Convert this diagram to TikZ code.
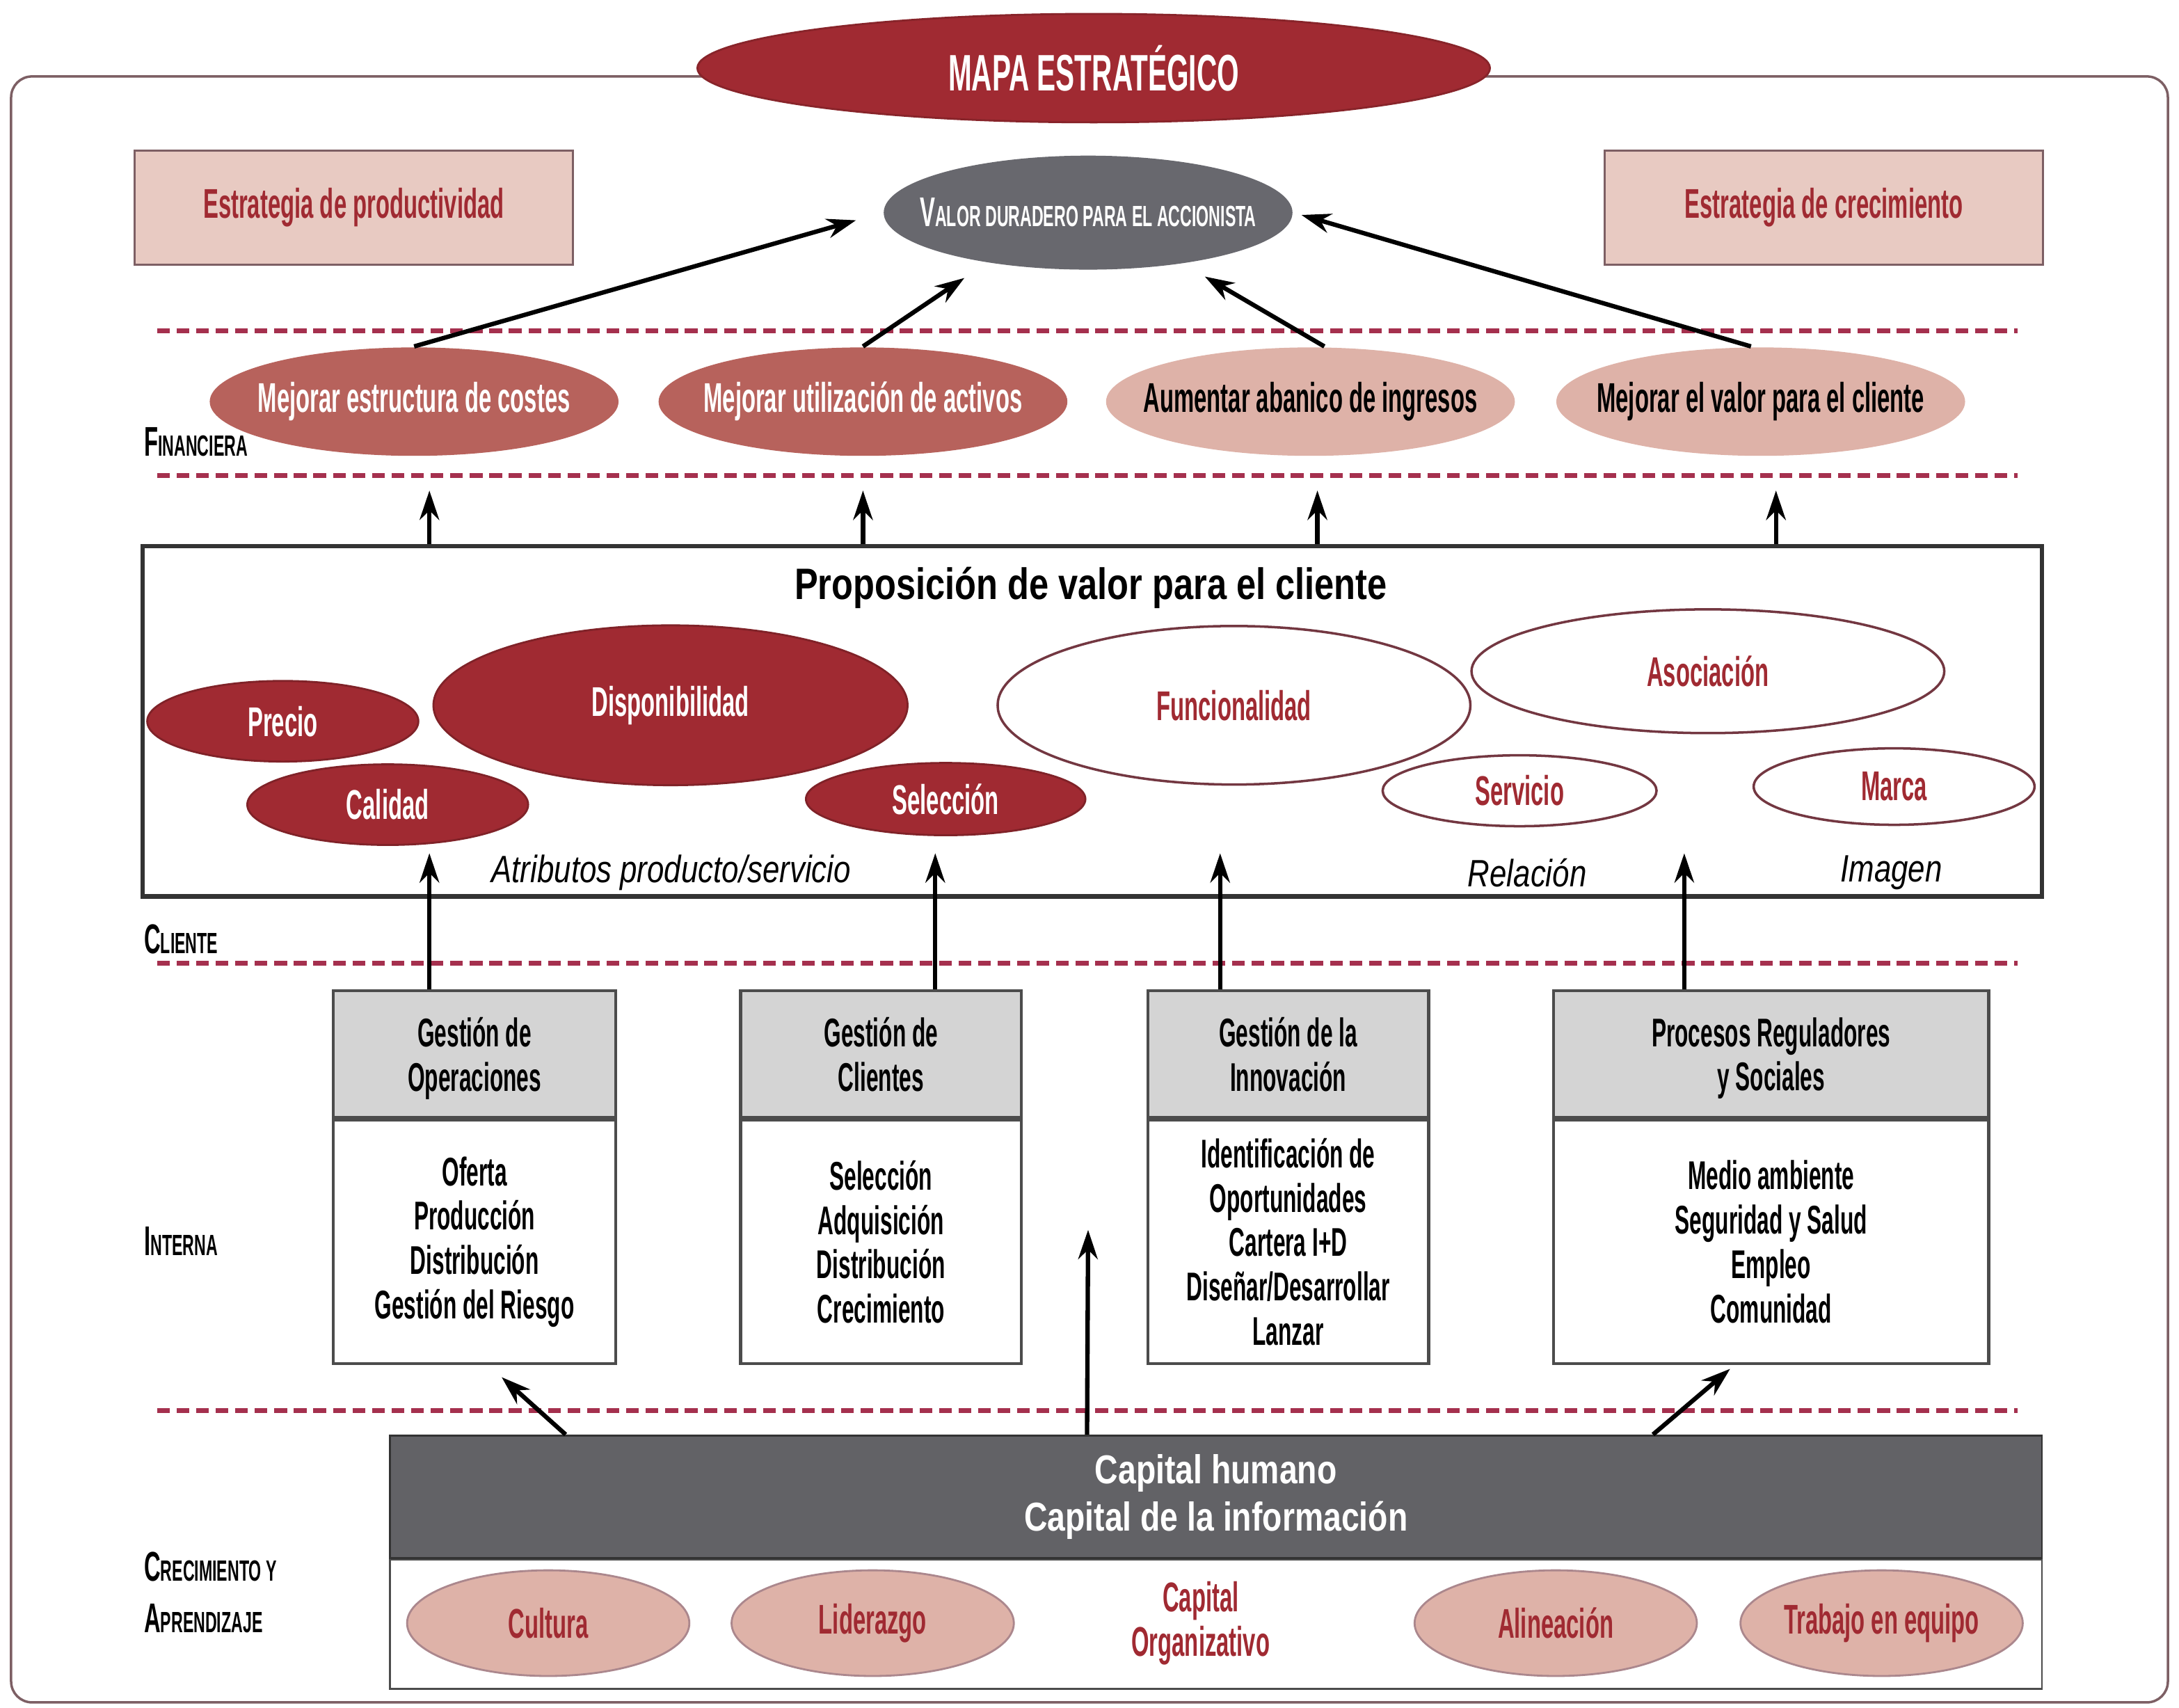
\documentclass[tikz,border=0pt]{standalone}
\usepackage{fontspec}
\setmainfont{Liberation Sans}[FakeStretch=0.55]
\newfontfamily\widefont{Liberation Sans}[FakeStretch=0.8]
\usepackage{tikz}
\usetikzlibrary{arrows.meta,positioning,shapes.geometric}

\definecolor{mapred}{RGB}{160,42,50}
\definecolor{midred}{RGB}{183,98,92}
\definecolor{pinkell}{RGB}{222,178,168}
\definecolor{pinkbox}{RGB}{232,202,194}
\definecolor{valgray}{RGB}{104,104,110}
\definecolor{capgray}{RGB}{98,98,102}
\definecolor{hdrgray}{RGB}{212,212,212}
\definecolor{sepred}{RGB}{165,48,78}
\definecolor{framecol}{RGB}{125,95,100}
\definecolor{ellline}{RGB}{115,55,65}

\newcommand{\fakesc}[2]{#1{\fontsize{6}{7}\selectfont #2}}
\newcommand{\elltxt}{\bfseries\fontsize{8.5}{9.2}\selectfont}
\newcommand{\proctxt}{\bfseries\fontsize{8.2}{9.1}\selectfont}

\begin{document}
\begin{tikzpicture}[
    x=0.01cm, y=-0.01cm,
    every node/.style={font=\elltxt, align=center, inner sep=0pt},
    titleell/.style={ellipse, fill=mapred, draw=mapred!85!black, text=white,
      minimum width=5.7cm, minimum height=0.78cm,
      font=\bfseries\fontsize{10.5}{12}\selectfont},
    stratbox/.style={rectangle, fill=pinkbox, draw=framecol, text=mapred,
      minimum width=3.15cm, minimum height=0.82cm},
    valell/.style={ellipse, inner xsep=-10pt, fill=valgray, text=white,
      minimum width=2.94cm, minimum height=0.82cm},
    finell/.style={ellipse, inner xsep=-6pt, minimum width=2.94cm, minimum height=0.78cm},
    darkfin/.style={finell, fill=midred, text=white},
    lightfin/.style={finell, fill=pinkell, text=black},
    solidell/.style={ellipse, inner xsep=-6pt, fill=mapred, draw=mapred!80!black, text=white},
    openell/.style={ellipse, inner xsep=-6pt, fill=white, draw=ellline, line width=0.5pt, text=mapred},
    orgell/.style={ellipse, inner xsep=-6pt, fill=pinkell, draw=ellline!60, text=mapred,
      minimum width=2.03cm, minimum height=0.76cm},
    layer/.style={anchor=west, align=left, font=\bfseries\fontsize{8.5}{10.5}\selectfont},
    attr/.style={font=\widefont\itshape\fontsize{7.8}{9}\selectfont},
    prochead/.style={rectangle, fill=hdrgray, draw=black!70, line width=0.6pt,
      minimum height=0.91cm, text depth=-2pt, font=\proctxt},
    procbody/.style={rectangle, fill=white, draw=black!70, line width=0.6pt,
      minimum height=1.75cm, font=\proctxt},
    arr/.style={-{Stealth[length=6pt,width=4pt]}, line width=0.9pt},
    sepline/.style={sepred, line width=1pt, dash pattern=on 2.6pt off 1.4pt}
  ]
  \useasboundingbox (0,0) rectangle (1568,1229);

  % Frame and title
  \draw[framecol, line width=0.5pt, rounded corners=0.15cm] (8,55) rectangle (1560,1225);
  \node[titleell] (title) at (787,49) {MAPA ESTRATÉGICO};

  % Strategies
  \node[stratbox] (prod) at (254.5,149.5) {Estrategia de productividad};
  \node[stratbox] (crec) at (1312.5,149.5) {Estrategia de crecimiento};
  \node[valell] (valor) at (783,153) {\fakesc{V}{ALOR DURADERO PARA EL ACCIONISTA}};

  % Layer separators
  \foreach \y in {238,342,693,1015}
    \draw[sepline] (113,\y) -- (1452,\y);

  % Financiera
  \node[darkfin] (costes) at (298,289) {Mejorar estructura de costes};
  \node[darkfin] (activos) at (621,289) {Mejorar utilización de activos};
  \node[lightfin] (ingresos) at (943,289) {Aumentar abanico de ingresos};
  \node[lightfin] (vcliente) at (1267,289) {Mejorar el valor para el cliente};
  \node[layer] (lfin) at (103,318) {\fakesc{F}{INANCIERA}};

  \coordinate (va2) at (694,200);
  \coordinate (va3) at (867,199);
  \draw[arr, shorten >=0.2cm] (costes.north) -- (valor.west);
  \draw[arr] (activos.north) -- (va2);
  \draw[arr] ([xshift=0.1cm]ingresos.north) -- (va3);
  \draw[arr, shorten >=0.06cm] ([xshift=-0.07cm]vcliente.north) -- (valor.east);

  % Cliente
  \node[draw=black!80, line width=0.9pt, fill=white, minimum width=13.66cm,
    minimum height=2.52cm] (prop) at (786,519) {};
  \node[font=\widefont\bfseries\fontsize{9}{11}\selectfont] (proptitle) at (785,423)
    {Proposición de valor para el cliente};
  \node[solidell, minimum width=1.95cm, minimum height=0.58cm] (precio) at (203.5,519) {Precio};
  \node[solidell, minimum width=3.41cm, minimum height=1.15cm] (dispo) at (482.5,507.5) {Disponibilidad};
  \node[solidell, minimum width=2.02cm, minimum height=0.58cm] (calidad) at (279,579) {Calidad};
  \node[solidell, minimum width=2.01cm, minimum height=0.52cm] (selec) at (680.5,575) {Selección};
  \node[openell, minimum width=3.40cm, minimum height=1.14cm] (funcion) at (888,507.5) {Funcionalidad};
  \node[openell, minimum width=3.40cm, minimum height=0.89cm] (asoc) at (1229,483) {Asociación};
  \node[openell, minimum width=1.97cm, minimum height=0.51cm] (servicio) at (1093.5,569) {Servicio};
  \node[openell, minimum width=2.02cm, minimum height=0.55cm] (marca) at (1363,566) {Marca};
  \node[attr] (atrib) at (483,628) {Atributos producto/servicio};
  \node[attr] (relac) at (1099,628) {Relación};
  \node[attr] (imagen) at (1361,628) {Imagen};
  \node[layer] (lcli) at (103,676) {\fakesc{C}{LIENTE}};

  \foreach \n/\x in {fa1/309,fa2/621,fa3/948,fa4/1278}
    \coordinate (\n) at (\x,353);
  \foreach \n in {fa1,fa2,fa3,fa4}
    \draw[arr] (prop.north -| \n) -- (\n);

  % Interna
  \node[prochead, minimum width=2.03cm] (gop) at (341.5,758.5) {Gestión de\\Operaciones};
  \node[procbody, minimum width=2.03cm, below=0pt of gop] (gopb)
    {Oferta\\Producción\\Distribución\\Gestión del Riesgo};
  \node[prochead, minimum width=2.02cm] (gcli) at (634,758.5) {Gestión de\\Clientes};
  \node[procbody, minimum width=2.02cm, below=0pt of gcli] (gclib)
    {Selección\\Adquisición\\Distribución\\Crecimiento};
  \node[prochead, minimum width=2.02cm] (ginn) at (927,758.5) {Gestión de la\\Innovación};
  \node[procbody, minimum width=2.02cm, below=0pt of ginn] (ginnb)
    {Identificación de\\Oportunidades\\Cartera I+D\\Diseñar/Desarrollar\\Lanzar};
  \node[prochead, minimum width=3.13cm] (preg) at (1274.5,758.5) {Procesos Reguladores\\y Sociales};
  \node[procbody, minimum width=3.13cm, below=0pt of preg] (pregb)
    {Medio ambiente\\Seguridad y Salud\\Empleo\\Comunidad};
  \node[layer] (lint) at (103,893) {\fakesc{I}{NTERNA}};

  \foreach \n/\x in {pa1/309,pa2/673,pa3/878,pa4/1212}
    \coordinate (\n) at (\x,614);
  \draw[arr] (gop.north -| pa1) -- (pa1);
  \draw[arr] (gcli.north -| pa2) -- (pa2);
  \draw[arr] (ginn.north -| pa3) -- (pa3);
  \draw[arr] (preg.north -| pa4) -- (pa4);

  % Crecimiento y aprendizaje
  \node[rectangle, fill=capgray, draw=black!80, minimum width=11.88cm, minimum height=0.88cm,
    text=white, font=\widefont\bfseries\fontsize{8.25}{9.7}\selectfont] (capital) at (875,1077)
    {Capital humano\\Capital de la información};
  \node[rectangle, fill=white, draw=black!70, minimum width=11.88cm, minimum height=0.93cm,
    below=0pt of capital] (orgbox) {};
  \node[orgell] (cultura) at (394.5,1168) {Cultura};
  \node[orgell] (lider) at (628,1168) {Liderazgo};
  \node[text=mapred] (corg) at (864,1168) {Capital\\Organizativo};
  \node[orgell] (alin) at (1119.5,1168) {Alineación};
  \node[orgell] (equipo) at (1354,1168) {Trabajo en equipo};
  \node[layer] (lcre) at (103,1146) {\fakesc{C}{RECIMIENTO Y}\\\fakesc{A}{PRENDIZAJE}};

  \coordinate (ia1) at (361,991);
  \coordinate (ia2) at (783,885);
  \coordinate (ia3) at (1245,985);
  \draw[arr] ([xshift=1.27cm]capital.north west) -- (ia1);
  \draw[arr] ([xshift=5.02cm]capital.north west) -- (ia2);
  \draw[arr] ([xshift=9.09cm]capital.north west) -- (ia3);

\end{tikzpicture}
\end{document}
